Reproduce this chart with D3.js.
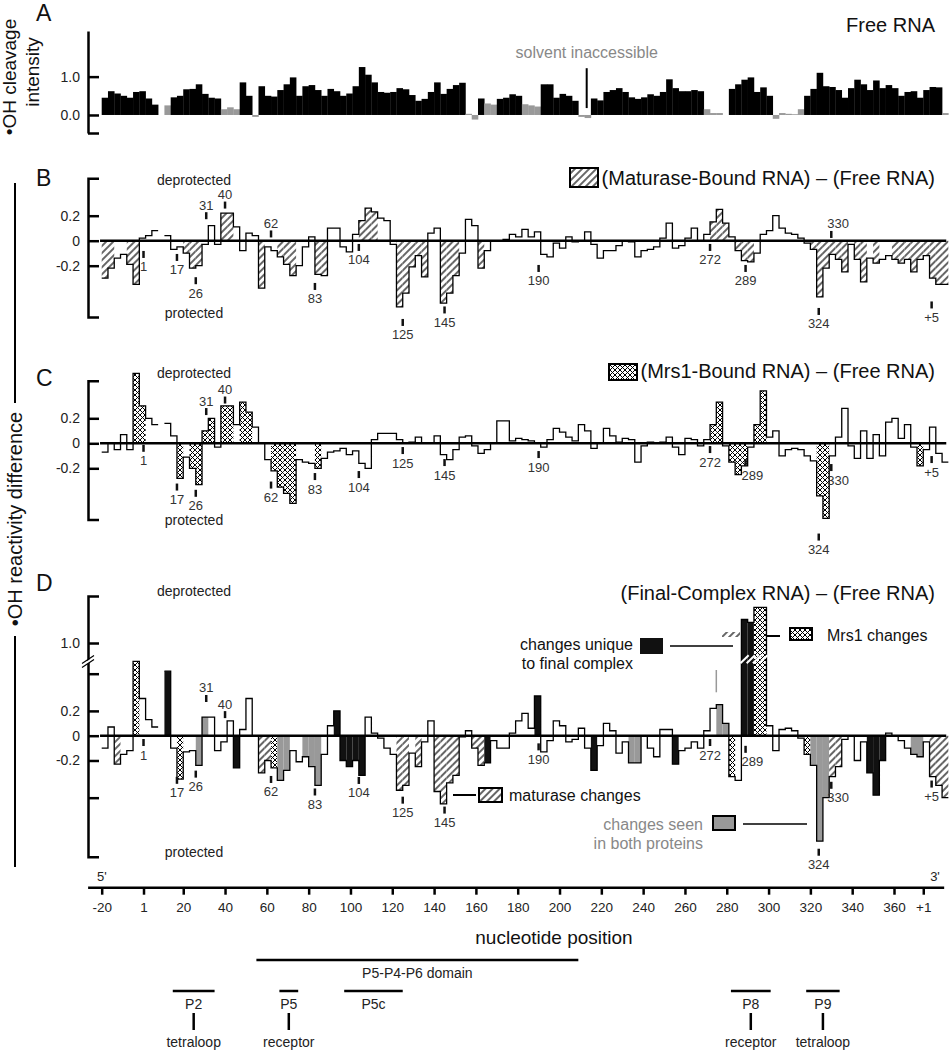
<!DOCTYPE html>
<html>
<head>
<meta charset="utf-8">
<script src="https://cdn.jsdelivr.net/npm/d3@7"></script>
<style>
body { margin: 0; background: #fff; }
svg { font-family: Arial, "Liberation Sans", sans-serif; }
</style>
</head>
<body>
<svg width="949" height="1050"></svg>
<script>
// each value covers 3 consecutive positions, first bin starts at nucleotide -20
const binWidth = 3

// A: free RNA cleavage intensity, k = black, g = solvent inaccessible (gray)
const freeRNA = [0.45,0.62,0.56,0.5,0.45,0.6,0.62,0.43,0.27,null,
  0.25,0.46,0.5,0.67,0.68,0.8,0.55,0.45,0.43,0.15,
  0.2,0.15,0.85,0.5,-0.05,0.75,0.5,0.48,0.65,0.8,
  0.98,0.5,0.75,0.78,0.65,0.5,0.68,0.62,0.5,0.56,
  0.75,1.25,1.05,0.85,0.6,0.58,0.6,0.7,0.67,0.52,
  0.37,0.42,0.6,0.85,0.55,0.68,0.78,0.84,0.03,-0.12,
  0.43,0.3,0.27,0.42,0.45,0.54,0.5,0.28,0.25,0.22,
  0.8,0.8,0.45,0.55,0.5,0.37,-0.05,-0.08,0.43,0.38,
  0.6,0.65,0.7,0.6,0.46,0.42,0.46,0.54,0.5,0.6,
  0.93,0.7,0.62,0.62,0.65,0.62,0.15,0.05,0.05,null,
  0.68,0.8,0.92,0.98,0.6,0.72,0.5,-0.1,0.05,0.03,
  0.02,0.15,0.5,0.68,1.1,0.75,0.73,0.65,0.45,0.7,
  0.92,0.8,0.65,0.9,0.7,0.78,0.7,0.5,0.6,0.62,
  0.45,0.65,0.73,0.72,0.05]
const freeKind = ["kkkkkkkkk-","gkkkkkkkkg","ggkkgkkkkk","kkkkkkkkkk","kkkkkkkkkk",
  "kkkkkkkkgg","kggkkkkggg","kkkkkkggkk","kkkkkkkkkk","kkkkkkggg-",
  "kkkkkkkggg","ggkkkkkkkk","kkkkkkkkkk","kkkkg"].join('')

// B: maturase-bound minus free, h = hatched
const maturase = [-0.3,-0.22,-0.14,-0.11,-0.19,-0.35,0.02,0.04,0.08,null,
  0.04,-0.07,-0.05,-0.1,-0.22,-0.2,-0.03,0.12,-0.03,0.22,
  0.22,0.11,-0.08,0.06,0.04,-0.38,-0.05,-0.08,-0.13,-0.19,
  -0.28,-0.2,-0.05,0.03,-0.27,-0.28,0.1,0.1,-0.05,-0.09,
  0.05,0.16,0.26,0.23,0.18,0.16,-0.03,-0.53,-0.42,-0.21,
  -0.12,-0.29,0.06,0.1,-0.5,-0.42,-0.28,-0.1,0.17,0.12,
  -0.22,-0.08,0,0,0.01,0.05,0.03,0.09,0.03,0.07,
  -0.11,-0.13,-0.02,-0.06,0.03,-0.01,0,0.07,-0.03,-0.14,
  -0.08,-0.08,-0.04,0,-0.01,-0.13,-0.08,-0.07,-0.05,0.02,
  0.14,-0.06,-0.04,0.02,0.1,0,0.05,0.15,0.25,0.14,
  0.03,-0.08,-0.16,-0.17,-0.1,0.05,0.08,0.2,0.1,0.06,
  0.05,0.02,-0.02,-0.07,-0.45,-0.22,-0.11,-0.15,-0.25,-0.03,
  -0.15,-0.33,-0.14,-0.18,-0.15,-0.12,-0.15,-0.18,-0.15,-0.25,
  -0.15,-0.12,-0.3,-0.35,-0.35]
const maturaseKind = ["hh..hh...-","...hhh...h","h....h..hh","h...hh....",".hhh...hhh",
  "hh..hhh...","h.........","..........","..........",".......hhh",
  ".hhh......","...hhhhhh.","hh.h..hhhh","hhhhh"].join('')

// C: Mrs1-bound minus free, x = crosshatched
const mrs1 = [-0.07,0,-0.05,0.07,-0.05,0.56,0.3,0.2,0.15,null,
  0.16,0.06,-0.28,-0.11,-0.2,-0.33,0.1,0.2,-0.03,0.3,
  0.3,0.15,0.33,0.25,0.13,0,-0.13,-0.22,-0.35,-0.4,
  -0.48,-0.13,-0.15,-0.16,-0.2,-0.12,-0.07,-0.06,-0.04,-0.09,
  -0.06,-0.16,-0.2,0.03,0.08,0.08,0.08,0.03,0,0.01,
  0.05,0,0,0.06,-0.09,-0.13,-0.05,0.05,0.06,-0.02,
  -0.08,-0.05,0,0.18,0.18,0.02,0.04,0.03,0.02,0,
  -0.03,0.03,0.12,0.09,0.05,0.02,0.15,0.1,-0.04,0,
  0.12,0.06,0.01,0.04,0.03,-0.15,-0.02,0.01,0,0.01,
  0.05,-0.03,-0.09,0.04,0.03,-0.02,0.03,0.15,0.33,-0.02,
  -0.15,-0.25,-0.18,-0.03,0.15,0.42,0.05,0.1,-0.1,-0.05,
  -0.04,-0.05,-0.1,-0.14,-0.42,-0.6,-0.1,0.05,0.28,-0.02,
  -0.12,0.1,-0.12,0.07,-0.1,0.17,0.2,0.04,0.15,-0.03,
  -0.18,-0.05,0.13,-0.08,-0.15]
const mrs1Kind = [".....xx..-","..x.xxxx.x","x.xx...xxx","x...x.....","..........",
  "..........","..........","..........","..........",".......xx.",
  "xxx.xx....","....xx....","..........","x...."].join('')

// D: final complex minus free; h maturase, x Mrs1, k unique, g both
const finalComplex = [-0.1,0.07,-0.23,-0.15,-0.12,0.6,0.3,0.13,0.07,null,
  0.52,-0.1,-0.35,-0.13,-0.12,-0.24,0.15,0.15,-0.12,-0.05,
  0.12,-0.26,0.05,0.3,0,-0.3,-0.2,-0.26,-0.36,-0.28,
  -0.12,-0.21,-0.17,-0.25,-0.4,-0.15,0.08,0.2,-0.2,-0.25,
  -0.2,-0.32,0.15,0.02,-0.02,-0.1,-0.15,-0.44,-0.4,-0.14,
  -0.25,-0.05,0.12,-0.45,-0.55,-0.38,-0.32,-0.01,0.04,-0.1,
  -0.24,-0.22,-0.04,-0.1,-0.1,0.02,0.12,0.18,0.06,0.32,
  -0.13,-0.04,0.12,0.08,-0.05,-0.03,0.06,-0.1,-0.28,-0.08,
  0.1,0.04,-0.14,-0.05,-0.22,-0.22,0,-0.1,-0.17,0.05,
  0.05,-0.23,-0.12,-0.1,-0.05,-0.1,0.04,0.22,0.25,0.1,
  -0.33,-0.36,1.25,1.22,1.38,1.38,0.08,-0.12,0.05,0.06,
  0.04,-0.02,-0.15,-0.24,-0.85,-0.5,-0.33,-0.25,-0.03,0,
  -0.2,-0.05,-0.3,-0.48,-0.2,0.02,0,-0.04,-0.1,-0.15,
  -0.17,-0.05,-0.33,-0.4,-0.5]
const finalKind = ["..h..x...-","k.x..gg...",".k...hhxgg","..ggg..kkk","kk.....hh.",
  "h..hhhh..h","hk.......k","........k.","....gg....",".k......gg",
  "x.kkxx....","..xggghh..","..kkk....g","g.hhh"].join('')

// x axis
const tickPositions = [-20,1,20,40,60,80,100,120,140,160,180,200,220,240,260,280,300,320,340,360,374]
const tickLabels = ['-20','1','20','40','60','80','100','120','140','160','180','200','220','240','260','280','300','320','340','360','+1']

// labelled nucleotides: [text, nucleotide, value at tick, side] (a = above, r = text to the right)
const labelsB = [['1',1,-0.11,'b'],['17',17,-0.134,'b'],['26',26,-0.32,'b'],['31',31,0.2,'a'],['40',40,0.285,'a'],
  ['62',62,0.054,'a'],['83',83,-0.366,'b'],['104',104,-0.054,'b'],['125',125,-0.654,'b'],['145',145,-0.554,'b'],
  ['190',190,-0.222,'b'],['272',272,-0.054,'b'],['289',289,-0.222,'b'],['330',330,0.05,'ar'],['324',324,-0.566,'b'],['+5',378,-0.514,'b']]
const labelsC = [['1',1,-0.04,'b'],['17',17,-0.35,'b'],['26',26,-0.4,'b'],['31',31,0.254,'a'],['40',40,0.346,'a'],
  ['62',62,-0.334,'b'],['83',83,-0.266,'b'],['104',104,-0.25,'b'],['125',125,-0.058,'b'],['145',145,-0.154,'b'],
  ['190',190,-0.09,'b'],['272',272,-0.05,'b'],['289',289,-0.154,'r'],['330',330,-0.194,'r'],['324',324,-0.75,'b'],['+5',378,-0.13,'b']]
const labelsD = [['1',1,-0.055,'b'],['17',17,-0.36,'b'],['26',26,-0.31,'b'],['31',31,0.3,'a'],['40',40,0.17,'a'],
  ['62',62,-0.353,'b'],['83',83,-0.454,'b'],['104',104,-0.361,'b'],['125',125,-0.52,'b'],['145',145,-0.6,'b'],
  ['190',190,-0.09,'b'],['272',272,-0.055,'b'],['289',289,-0.11,'r'],['330',330,-0.4,'r'],['324',324,-0.94,'b'],['+5',378,-0.39,'b']]

// structural elements (nucleotide ranges)
const domains = [{name:'P5-P4-P6 domain', start:55, end:209}]
const elements = [{name:'P2', start:15, end:35, feature:'tetraloop'},
  {name:'P5', start:66, end:75, feature:'receptor'},
  {name:'P5c', start:97, end:125, feature:null},
  {name:'P8', start:282, end:301, feature:'receptor'},
  {name:'P9', start:318, end:334, feature:'tetraloop'}]
const solventMark = 213

// there is no nucleotide 0
const seqIndex = n => n < 1 ? n + 20 : n + 19

const svg = d3.select('svg')
const xscale = d3.scaleLinear().domain([0, 379]).range([101.7, 894])
const xnuc = n => xscale(seqIndex(n))

const yA = d3.scaleLinear().domain([-0.47, 2.19]).range([133, 31])
const yB = d3.scaleLinear().domain([-0.61, 0.5]).range([316.95, 178.2])
const yC = d3.scaleLinear().domain([-0.61, 0.5]).range([519.55, 380.8])
// panel D has a broken axis above 0.6
const yD = d3.scaleLinear().domain([-0.976, 0.6, 1.0, 1.5]).range([856.7, 661.3, 643, 596])

// patterns
const defs = svg.append('defs')
const hatch = defs.append('pattern').attr('id','hatch').attr('patternUnits','userSpaceOnUse')
  .attr('width',5).attr('height',5).attr('patternTransform','rotate(45)')
hatch.append('rect').attr('width',5).attr('height',5).attr('fill','#fff')
hatch.append('line').attr('x1',1).attr('x2',1).attr('y1',0).attr('y2',5).attr('stroke','#000').attr('stroke-width',1.2)
const cross = defs.append('pattern').attr('id','cross').attr('patternUnits','userSpaceOnUse')
  .attr('width',5).attr('height',5)
cross.append('rect').attr('width',5).attr('height',5).attr('fill','#fff')
cross.append('path').attr('d','M0,0L5,5M5,0L0,5').attr('stroke','#000').attr('stroke-width',1)

const fills = {h:'url(#hatch)', x:'url(#cross)', k:'#111', g:'#999'}

const toBins = (values, kinds) => values.map((v, i) => ({i0: i*binWidth, i1: (i+1)*binWidth, v: v, k: kinds[i]}))

const text = (x, y, s, size, anchor, color) =>
  svg.append('text').attr('x',x).attr('y',y).attr('font-size',size)
    .attr('text-anchor',anchor || 'start').attr('fill',color || '#111').text(s)

const fmt = d => d === 0 ? '0' : d.toFixed(1)

function yAxis(scale, ticks, labeled, outer, f) {
  const ax = d3.axisLeft(scale).tickValues(ticks).tickSize(-11).tickSizeOuter(outer).tickPadding(8)
    .tickFormat(d => labeled.includes(d) ? f(d) : '')
  const g = svg.append('g').attr('transform','translate(88,0)').call(ax)
  g.selectAll('path, line').attr('stroke','#000').attr('stroke-width',2.5)
  g.selectAll('text').attr('font-size',14).attr('fill','#222').attr('font-family','Arial, sans-serif')
  return g
}

function drawDiff(bins, yscale) {
  const g = svg.append('g')
  g.selectAll('rect').data(bins.filter(d => d.v != null && fills[d.k])).join('rect')
    .attr('x', d => xscale(d.i0)).attr('width', d => xscale(d.i1) - xscale(d.i0))
    .attr('y', d => Math.min(yscale(d.v), yscale(0)))
    .attr('height', d => Math.abs(yscale(d.v) - yscale(0)))
    .attr('fill', d => fills[d.k])
  const pts = bins.flatMap(d => [{i:d.i0, v:d.v}, {i:d.i1, v:d.v}])
  const line = d3.line().defined(d => d.v != null).x(d => xscale(d.i)).y(d => yscale(d.v))
  g.append('path').attr('d', line(pts)).attr('fill','none').attr('stroke','#000').attr('stroke-width',1.3)
  g.append('line').attr('x1', xscale(-0.8)).attr('x2', xscale(404)).attr('y1', yscale(0)).attr('y2', yscale(0))
    .attr('stroke','#000').attr('stroke-width',2.5)
  return g
}

function drawLabels(labels, yscale) {
  const g = svg.append('g')
  labels.forEach(([t, n, v, side]) => {
    const x = xnuc(n), y = yscale(v)
    const right = side.includes('r'), above = side.includes('a')
    g.append('rect').attr('x', x - 1.25).attr('y', y - 3.5).attr('width', 2.5).attr('height', 7).attr('fill','#111')
    g.append('text').attr('x', right ? x - 4 : x)
      .attr('y', above ? y - 6 : y + 17)
      .attr('text-anchor', right ? 'start' : 'middle')
      .attr('font-size', 13).attr('fill','#333').text(t)
  })
}

// ---- panel A ----
const binsA = toBins(freeRNA, freeKind)
svg.append('g').selectAll('rect').data(binsA.filter(d => d.v != null)).join('rect')
  .attr('x', d => xscale(d.i0)).attr('width', d => xscale(d.i1) - xscale(d.i0) + 0.3)
  .attr('y', d => Math.min(yA(d.v), yA(0))).attr('height', d => Math.abs(yA(d.v) - yA(0)))
  .attr('fill', d => d.k === 'g' ? '#999' : '#000')
yAxis(yA, [1, 0, -0.47], [1, 0], 0, d => d.toFixed(1))
svg.append('line').attr('x1', xnuc(solventMark)).attr('x2', xnuc(solventMark))
  .attr('y1', yA(1.22)).attr('y2', yA(0.18)).attr('stroke','#000').attr('stroke-width',2)
text(xnuc(solventMark), 58, 'solvent inaccessible', 16, 'middle', '#888')
text(935, 32, 'Free RNA', 20, 'end')
text(36, 21, 'A', 23)
svg.append('text').attr('transform','translate(16,77) rotate(-90)').attr('text-anchor','middle')
  .attr('font-size',19).attr('fill','#111').text('•OH cleavage')
svg.append('text').attr('transform','translate(39,72) rotate(-90)').attr('text-anchor','middle')
  .attr('font-size',19).attr('fill','#111').text('intensity')

// ---- panel B ----
drawDiff(toBins(maturase, maturaseKind), yB)
yAxis(yB, [0.2, 0, -0.2], [0.2, 0, -0.2], -11, fmt)
drawLabels(labelsB, yB)
text(36, 186, 'B', 23)
text(194, 185, 'deprotected', 14, 'middle', '#222')
text(194, 318, 'protected', 14, 'middle', '#222')
svg.append('rect').attr('x',570).attr('y',168).attr('width',28).attr('height',19)
  .attr('fill','url(#hatch)').attr('stroke','#000').attr('stroke-width',2)
text(935, 185, '(Maturase-Bound RNA) – (Free RNA)', 20, 'end')

// ---- panel C ----
drawDiff(toBins(mrs1, mrs1Kind), yC)
yAxis(yC, [0.2, 0, -0.2], [0.2, 0, -0.2], -11, fmt)
drawLabels(labelsC, yC)
text(36, 386, 'C', 23)
text(194, 378, 'deprotected', 14, 'middle', '#222')
text(194, 525, 'protected', 14, 'middle', '#222')
svg.append('rect').attr('x',609).attr('y',364).attr('width',28).attr('height',16)
  .attr('fill','url(#cross)').attr('stroke','#000').attr('stroke-width',2)
text(935, 378, '(Mrs1-Bound RNA) – (Free RNA)', 20, 'end')

// ---- panel D ----
const binsD = toBins(finalComplex, finalKind)
drawDiff(binsD, yD)
// breaks on the two tall bars
const tall = binsD.filter(d => d.v > 1)
svg.append('g').selectAll('line').data(tall).join('line')
  .attr('x1', d => xscale(d.i0) - 1).attr('x2', d => xscale(d.i1) + 1)
  .attr('y1', d => yD(0.6) + 2).attr('y2', d => yD(0.6) - 6)
  .attr('stroke','#fff').attr('stroke-width',2)
yAxis(yD, [1, 0.5, 0.2, 0, -0.2, -0.5], [1, 0.2, 0, -0.2], -11, fmt)
// axis break marks
const yb = yD(0.62)
svg.append('path').attr('d', `M82,${yb+4}L94,${yb-4}L94,${yb-1}L82,${yb+7}Z`).attr('fill','#fff')
svg.append('path').attr('d', `M82,${yb+3}L94,${yb-5}M82,${yb+7}L94,${yb-1}`).attr('stroke','#000').attr('stroke-width',1.2)
drawLabels(labelsD, yD)
svg.append('line').attr('x1', xnuc(275)).attr('x2', xnuc(275)).attr('y1', yD(0.35)).attr('y2', yD(0.53))
  .attr('stroke','#999').attr('stroke-width',1.5)
text(36, 591, 'D', 23)
text(194, 596, 'deprotected', 14, 'middle', '#222')
text(194, 857, 'protected', 14, 'middle', '#222')
text(935, 600, '(Final-Complex RNA) – (Free RNA)', 20, 'end')

// legends of panel D
text(633, 650, 'changes unique', 16, 'end')
text(633, 669, 'to final complex', 16, 'end')
svg.append('rect').attr('x',640).attr('y',638).attr('width',23).attr('height',16).attr('fill','#111')
svg.append('line').attr('x1',670).attr('x2',733).attr('y1',646).attr('y2',646).attr('stroke','#000').attr('stroke-width',1.5)
svg.append('rect').attr('x',722).attr('y',632).attr('width',18).attr('height',5).attr('fill','url(#hatch)')
svg.append('line').attr('x1',767).attr('x2',780).attr('y1',636).attr('y2',636).attr('stroke','#000').attr('stroke-width',2)
svg.append('rect').attr('x',790).attr('y',628).attr('width',22).attr('height',12)
  .attr('fill','url(#cross)').attr('stroke','#000').attr('stroke-width',2)
text(827, 641, 'Mrs1 changes', 16)
svg.append('line').attr('x1',453).attr('x2',476).attr('y1',795).attr('y2',795).attr('stroke','#000').attr('stroke-width',2)
svg.append('rect').attr('x',479).attr('y',788).attr('width',23).attr('height',14)
  .attr('fill','url(#hatch)').attr('stroke','#000').attr('stroke-width',2)
text(509, 801, 'maturase changes', 16)
text(703, 830, 'changes seen', 16, 'end', '#888')
text(703, 849, 'in both proteins', 16, 'end', '#888')
svg.append('rect').attr('x',713).attr('y',816).attr('width',22).attr('height',14)
  .attr('fill','#999').attr('stroke','#000').attr('stroke-width',2)
svg.append('line').attr('x1',743).attr('x2',807).attr('y1',824).attr('y2',824).attr('stroke','#000').attr('stroke-width',1.5)

// shared y label
svg.append('text').attr('transform','translate(22,519) rotate(-90)').attr('text-anchor','middle')
  .attr('font-size',20).attr('fill','#111').text('•OH reactivity difference')
svg.append('line').attr('x1',15).attr('x2',15).attr('y1',183).attr('y2',403).attr('stroke','#000').attr('stroke-width',2)
svg.append('line').attr('x1',15).attr('x2',15).attr('y1',636).attr('y2',867).attr('stroke','#000').attr('stroke-width',2)

// ---- x axis ----
const xg = svg.append('g').attr('transform','translate(0,887.7)')
  .call(d3.axisBottom(xscale).tickValues(tickPositions.map(seqIndex)).tickSize(7).tickSizeOuter(0).tickPadding(8)
    .tickFormat((d, i) => tickLabels[i]))
xg.select('.domain').remove()
xg.selectAll('line').attr('stroke','#000').attr('stroke-width',2.5)
xg.selectAll('text').attr('font-size',13.5).attr('fill','#222').attr('font-family','Arial, sans-serif')
xg.append('line').attr('x1', xscale(-6.5)).attr('x2', xscale(403)).attr('y1',0).attr('y2',0)
  .attr('stroke','#000').attr('stroke-width',2.5)
text(97, 881, "5'", 13, 'start', '#222')
text(935, 881, "3'", 13, 'middle', '#222')
text(554, 944, 'nucleotide position', 19, 'middle', '#111')

// structural domains
svg.append('g').selectAll('line').data(domains).join('line')
  .attr('x1', d => xnuc(d.start)).attr('x2', d => xnuc(d.end)).attr('y1',960).attr('y2',960)
  .attr('stroke','#000').attr('stroke-width',2.5)
svg.append('g').selectAll('text').data(domains).join('text')
  .attr('x', d => (xnuc(d.start) + xnuc(d.end)) / 2).attr('y',978).attr('text-anchor','middle')
  .attr('font-size',14).attr('fill','#222').text(d => d.name)
const eg = svg.append('g')
eg.selectAll('line.el').data(elements).join('line').attr('class','el')
  .attr('x1', d => xnuc(d.start)).attr('x2', d => xnuc(d.end)).attr('y1',991).attr('y2',991)
  .attr('stroke','#000').attr('stroke-width',2.5)
eg.selectAll('text.el').data(elements).join('text').attr('class','el')
  .attr('x', d => (xnuc(d.start) + xnuc(d.end)) / 2).attr('y',1009).attr('text-anchor','middle')
  .attr('font-size',14).attr('fill','#222').text(d => d.name)
const feats = elements.filter(d => d.feature)
eg.selectAll('line.ft').data(feats).join('line').attr('class','ft')
  .attr('x1', d => (xnuc(d.start) + xnuc(d.end)) / 2).attr('x2', d => (xnuc(d.start) + xnuc(d.end)) / 2)
  .attr('y1',1013).attr('y2',1030).attr('stroke','#000').attr('stroke-width',2.5)
eg.selectAll('text.ft').data(feats).join('text').attr('class','ft')
  .attr('x', d => (xnuc(d.start) + xnuc(d.end)) / 2).attr('y',1047).attr('text-anchor','middle')
  .attr('font-size',14).attr('fill','#222').text(d => d.feature)
</script>
</body>
</html>
